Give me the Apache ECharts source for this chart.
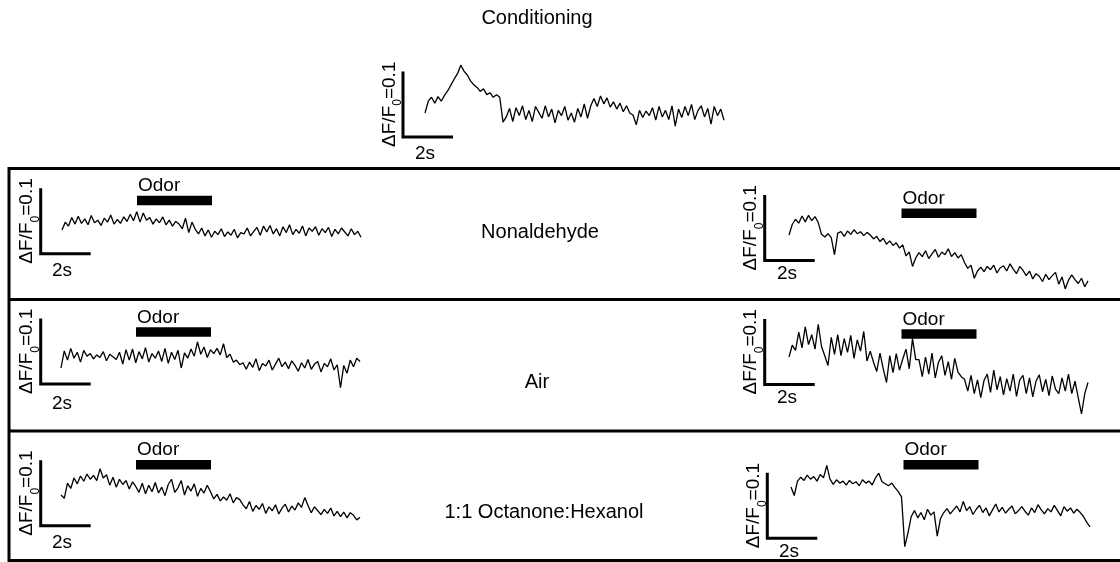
<!DOCTYPE html>
<html>
<head>
    <meta charset="utf-8">
    <title>Conditioning traces</title>
    <script src="https://cdn.jsdelivr.net/npm/echarts@6/dist/echarts.min.js"></script>
</head>
<body style="margin:0">
<div id="main" style="width:1120px;height:562px;"></div>
<script type="text/javascript">
    // sampling step of every trace (s)
    var dt = 0.13;
    // dF/F traces in %, relative to the first sample
    var condTrace = [0, 1.8, 2.4, 1.5, 2.5, 1.8, 2.7, 3.4, 4.3, 5.2, 6.0, 7.3, 6.4, 5.8, 4.9, 4.3, 3.9, 3.3, 3.7, 2.8, 3.1, 2.4, 2.8, 2.4,
        -1.4, -0.6, 0.7, -1.3, 0.8, -0.4, 1.1, -1.0, 0.4, -1.3, 1.0, 0.1, -0.8, 1.1, -0.6, 0.6, -1.5, 0.4, -0.4, 1.0,
        -1.1, 0.0, -1.4, 0.7, -0.6, 1.4, -0.8, 1.1, 2.2, 1.0, 2.6, 1.4, 2.3, 0.9, 1.7, 0.6, 1.5, 0.2, 1.1, 0.0,
        -0.3, -1.8, 0.4, -0.7, 0.3, -0.4, 0.8, -1.1, 1.0, -0.6, 0.4, -1.0, 1.1, -2.0, 0.6, -0.7, 1.0, -0.4, 1.3, -1.0,
        0.4, 1.1, -0.6, 0.7, -1.7, 1.0, -0.4, 0.6, -1.1];
    var nonalLeft = [0, 1.2, 0.6, 1.9, 0.9, 2.1, 1.0, 1.7, 0.8, 2.2, 1.1, 1.5, 0.7, 1.8, 1.2, 2.3, 0.9, 1.6, 1.0, 2.0,
        1.3, 2.4, 1.4, 2.8, 1.2, 2.6, 1.5, 1.9, 0.9, 1.7, 1.1, 2.0, 0.8, 1.5, 0.6, 1.3, 0.9, 0.2, 1.8, -0.4,
        1.2, 0.1, -0.6, 0.3, -0.9, 0.0, -1.1, -0.2, -0.7, 0.2, -1.0, -0.3, -0.8, 0.1, -1.2, -0.4, -0.6, 0.3, -0.9, -0.2,
        0.4, -0.8, 0.6, -0.3, 0.7, -0.6, 0.2, -0.9, 0.5, -0.4, 0.8, -0.7, 0.1, -0.5, 0.6, -0.9, 0.3, -0.2, 0.5, -0.8,
        0.2, -0.4, 0.4, -1.0, 0.1, -0.6, 0.3, -0.3, -0.9, 0.2, -0.7, -0.2, -1.1];
    var nonalRight = [0, 1.6, 2.4, 1.8, 2.9, 2.0, 3.0, 2.2, 2.8, 1.9, 0.1, -0.3, 0.2, -0.4, -3.0, 0.3, 0.5, -0.2, 0.6, 0.1,
        0.8, 0.2, 0.5, -0.1, 0.4, 0.0, -0.6, -0.2, -1.0, -0.5, -1.4, -0.9, -1.6, -1.2, -2.0, -1.5, -3.2, -2.6, -4.8, -3.5,
        -2.7, -3.3, -2.4, -3.6, -2.9, -2.2, -3.4, -2.6, -3.0, -2.1, -3.3, -2.7, -3.5, -3.0, -4.2, -5.1, -4.6, -6.6, -5.5, -4.9,
        -5.6, -4.8, -5.3, -4.6, -5.8, -5.0, -4.7, -5.5, -4.4, -5.2, -5.9, -4.8, -5.4, -6.2, -5.5, -6.7, -5.9, -6.3, -7.1, -6.0,
        -6.8, -6.2, -5.7, -7.5, -6.4, -8.2, -6.9, -6.1, -6.8, -7.4, -6.6, -7.9, -7.0];
    var airLeft = [0, 2.6, 1.2, 3.0, 1.5, 2.4, 0.9, 2.7, 1.8, 2.2, 1.4, 2.0, 1.6, 2.5, 1.1, 2.1, 1.7, 1.3, 2.4, 0.6,
        2.8, 1.2, 2.9, 0.8, 2.5, 1.4, 3.1, 0.9, 2.2, 1.5, 2.6, 1.0, 3.0, 0.7, 2.4, 1.3, 2.7, 0.0, 2.3, 1.5,
        2.9, 1.8, 4.0, 2.1, 3.2, 1.6, 2.8, 2.2, 3.0, 2.0, 3.7, 1.6, 2.1, 0.9, 1.2, 0.5, 0.8, -0.2, 0.9, 0.1,
        1.4, -0.4, 0.7, 0.3, 1.2, -0.3, 0.6, 1.5, 0.2, 0.9, -0.1, 1.1, 0.4, -0.5, 0.8, 0.0, 1.3, -0.2, 0.6, 1.0,
        -0.6, 0.7, 0.2, 1.4, -0.3, 0.5, -3.0, 0.4, -0.8, 1.2, 0.2, 1.5, 1.0];
    var airRight = [0, 1.8, 1.0, 3.8, 1.4, 4.6, 1.9, 3.4, 1.2, 5.0, 1.6, 0.2, -1.3,
        3.0, 0.4, 3.4, 0.2, 2.8, 0.7, 3.3, -0.2, 2.6, 0.9, 3.9, -0.6, 0.9,
        -0.8, -2.2, 0.6, -1.8, -3.9, 0.2, -2.4, 0.5, -2.0, -0.3, 1.2, -1.8, 2.8, -0.4,
        -0.4, -3.0, 0.0, -2.6, 0.6, -3.2, -0.8, 0.2, -2.8, -0.7, -3.4, -0.2, -2.3, -3.0,
        -3.4, -5.2, -2.8, -5.6, -3.5, -6.2, -3.6, -2.6, -5.4, -2.0, -5.0, -3.0, -5.8, -3.3, -5.2, -2.6, -6.0, -3.5,
        -2.8, -5.6, -3.2, -6.1, -3.7, -2.7, -5.3, -3.4, -5.9, -2.9, -4.9, -5.6, -3.2, -5.2, -2.6, -5.6, -3.7, -6.2,
        -8.7, -5.6, -3.9];
    var octLeft = [0, -0.5, 1.8, 1.0, 2.6, 1.7, 2.9, 2.1, 3.2, 2.4, 3.0, 2.2, 4.0, 2.6, 3.1, 1.5, 2.7, 1.2, 2.4, 1.6,
        2.2, 0.9, 2.0, 1.3, 0.4, 1.8, 0.2, 1.5, 0.5, 1.9, 0.3, 1.2, -0.1, 1.6, 2.4, 0.4, 1.1, 2.2, 0.0, 1.4,
        0.6, 1.7, -0.2, 1.0, 0.3, 1.5, 0.5, -0.6, 0.1, -0.9, -0.3, -0.8, 0.2, -1.2, -0.4, -0.7, -1.5, -2.1, -1.0, -2.5,
        -1.6, -2.2, -1.3, -2.8, -1.8, -2.4, -1.5, -2.9, -2.0, -1.4, -2.6, -1.7, -2.3, -1.2, -1.9, -0.4, -1.6, -2.7, -1.8, -2.4,
        -3.0, -2.2, -2.8, -2.0, -3.2, -2.5, -3.3, -2.6, -3.5, -2.7, -3.1, -3.8, -3.4];
    var octRight = [0, -1.3, 0.9, 1.5, 1.0, 1.8, 1.2, 1.6, 0.9, 1.9, 1.4, 3.3, 1.2, 0.4, 1.1, 0.6, 0.9, 0.3, 1.0, 0.5,
        0.8, 0.2, 1.1, 0.6, 0.9, 0.3, 1.4, 2.1, 0.8, 0.5, 0.2, 0.6, -0.1, -0.7, -1.5, -9.1, -7.0, -4.5, -3.6, -4.7,
        -3.9, -5.0, -3.4, -4.3, -3.8, -7.5, -4.8, -3.9, -3.3, -4.1, -3.5, -2.9, -3.8, -2.2, -3.6, -3.0, -4.2, -3.4, -2.8, -3.9,
        -3.2, -4.4, -3.5, -2.6, -3.8, -3.1, -4.0, -3.4, -2.9, -4.1, -3.6, -3.0, -3.7, -4.3, -3.2, -3.9, -2.7, -3.5, -4.1, -3.3,
        -3.8, -2.8, -3.6, -4.4, -3.0, -3.7, -3.2, -4.0, -3.4, -3.9, -4.5, -5.4, -6.1];

    // odor delivery windows (s from trace start)
    var odorLeft = [3, 6];
    var odorRight = [4.5, 7.5];
    // scale bars
    var scaleTime = 2;    // s
    var scaleDff = 10;    // % (= 0.1 dF/F0)
    var rowNames = ['Conditioning', 'Nonaldehyde', 'Air', '1:1 Octanone:Hexanol'];

    var W = 1120, H = 562;
    var pxPerSec = 25, pxPerPct = 6.55;
    var font = '"Liberation Sans", Arial, sans-serif';

    // layout of each small plot (pixels)
    var panels = [
        {data: condTrace, ox: 425, oy: 113, bx: 403, by: 137, odor: null, sx: 425, sy: 154},
        {data: nonalLeft, ox: 62, oy: 230, bx: 40.7, by: 253.7, odor: odorLeft, odorY: 200.5, sx: 62, sy: 271},
        {data: nonalRight, ox: 789, oy: 235, bx: 764.7, by: 260.5, odor: odorRight, odorY: 213.3, sx: 787, sy: 274},
        {data: airLeft, ox: 61, oy: 368, bx: 40.7, by: 384, odor: odorLeft, odorY: 332, sx: 62, sy: 404},
        {data: airRight, ox: 789, oy: 357, bx: 764.7, by: 384.5, odor: odorRight, odorY: 334, sx: 787, sy: 397.5},
        {data: octLeft, ox: 61, oy: 495, bx: 40.7, by: 525.8, odor: odorLeft, odorY: 464.7, sx: 62, sy: 542.5},
        {data: octRight, ox: 791, oy: 487, bx: 767.3, by: 538.3, odor: odorRight, odorY: 464.7, sx: 789, sy: 552}
    ];

    var grids = [], xAxes = [], yAxes = [], series = [], graphics = [];

    function txt(x, y, text, size, align) {
        return {type: 'text', x: x, y: y, z: 10,
            style: {text: text, fill: '#000', font: size + 'px ' + font, align: align || 'center', verticalAlign: 'middle'}};
    }

    panels.forEach(function (p, i) {
        // keep every grid inside the canvas
        var top = Math.max(2, p.oy - 110), bottom = Math.min(H - 2, p.oy + 110);
        grids.push({left: p.ox - 40, top: top, width: 360, height: bottom - top, outerBoundsMode: 'none'});
        xAxes.push({type: 'value', gridIndex: i, min: -40 / pxPerSec, max: 320 / pxPerSec, show: false});
        yAxes.push({type: 'value', gridIndex: i, min: -(bottom - p.oy) / pxPerPct, max: (p.oy - top) / pxPerPct, show: false});

        series.push({
            type: 'line', xAxisIndex: i, yAxisIndex: i, symbol: 'none', clip: false, silent: true,
            data: p.data.map(function (v, k) { return [k * dt, v]; }),
            lineStyle: {color: '#000', width: 1.3}
        });

        // scale bar, corner placed at (bx, by)
        var bt = (p.bx - p.ox) / pxPerSec, bv = (p.oy - p.by) / pxPerPct;
        series.push({
            type: 'line', xAxisIndex: i, yAxisIndex: i, symbol: 'none', clip: false, silent: true,
            data: [[bt, bv + scaleDff], [bt, bv], [bt + scaleTime, bv]],
            lineStyle: {color: '#000', width: 3, cap: 'butt', join: 'miter'}
        });
        graphics.push(txt(p.sx, p.sy, '2s', 19));
        graphics.push({
            type: 'text', x: p.bx - 12, y: p.by - scaleDff * pxPerPct / 2, rotation: Math.PI / 2, z: 10,
            style: {
                text: '{a|ΔF/F}{s|0}{a|=0.1}', fill: '#000', align: 'center', verticalAlign: 'middle',
                rich: {
                    a: {fontSize: 19, fontFamily: font, lineHeight: 22, verticalAlign: 'top'},
                    s: {fontSize: 12, fontFamily: font, lineHeight: 14, padding: [12, 0, 0, 0], verticalAlign: 'top'}
                }
            }
        });

        if (p.odor) {
            var ov = (p.oy - p.odorY) / pxPerPct;
            series.push({
                type: 'line', xAxisIndex: i, yAxisIndex: i, symbol: 'none', clip: false, silent: true,
                data: [[p.odor[0], ov], [p.odor[1], ov]],
                lineStyle: {color: '#000', width: 9.5, cap: 'butt'}
            });
            graphics.push(txt(p.ox + p.odor[0] * pxPerSec + 1, p.odorY - 14.5, 'Odor', 19, 'left'));
        }
    });

    // row titles
    graphics.push(txt(537, 18, rowNames[0], 20));
    graphics.push(txt(540, 232, rowNames[1], 20));
    graphics.push(txt(537, 382, rowNames[2], 20));
    graphics.push(txt(544, 512, rowNames[3], 20));

    // frame around the three test rows
    var frameLine = {stroke: '#000', lineWidth: 3};
    graphics.push({type: 'rect', z: 20, shape: {x: 9, y: 168.5, width: 1125, height: 392},
        style: {fill: 'none', stroke: '#000', lineWidth: 3}});
    graphics.push({type: 'line', z: 20, shape: {x1: 9, y1: 299.5, x2: 1125, y2: 299.5}, style: frameLine});
    graphics.push({type: 'line', z: 20, shape: {x1: 9, y1: 431, x2: 1125, y2: 431}, style: frameLine});

    var myChart = echarts.init(document.getElementById('main'));
    myChart.setOption({
        animation: false,
        backgroundColor: '#fff',
        grid: grids,
        xAxis: xAxes,
        yAxis: yAxes,
        series: series,
        graphic: graphics
    });
</script>
</body>
</html>
